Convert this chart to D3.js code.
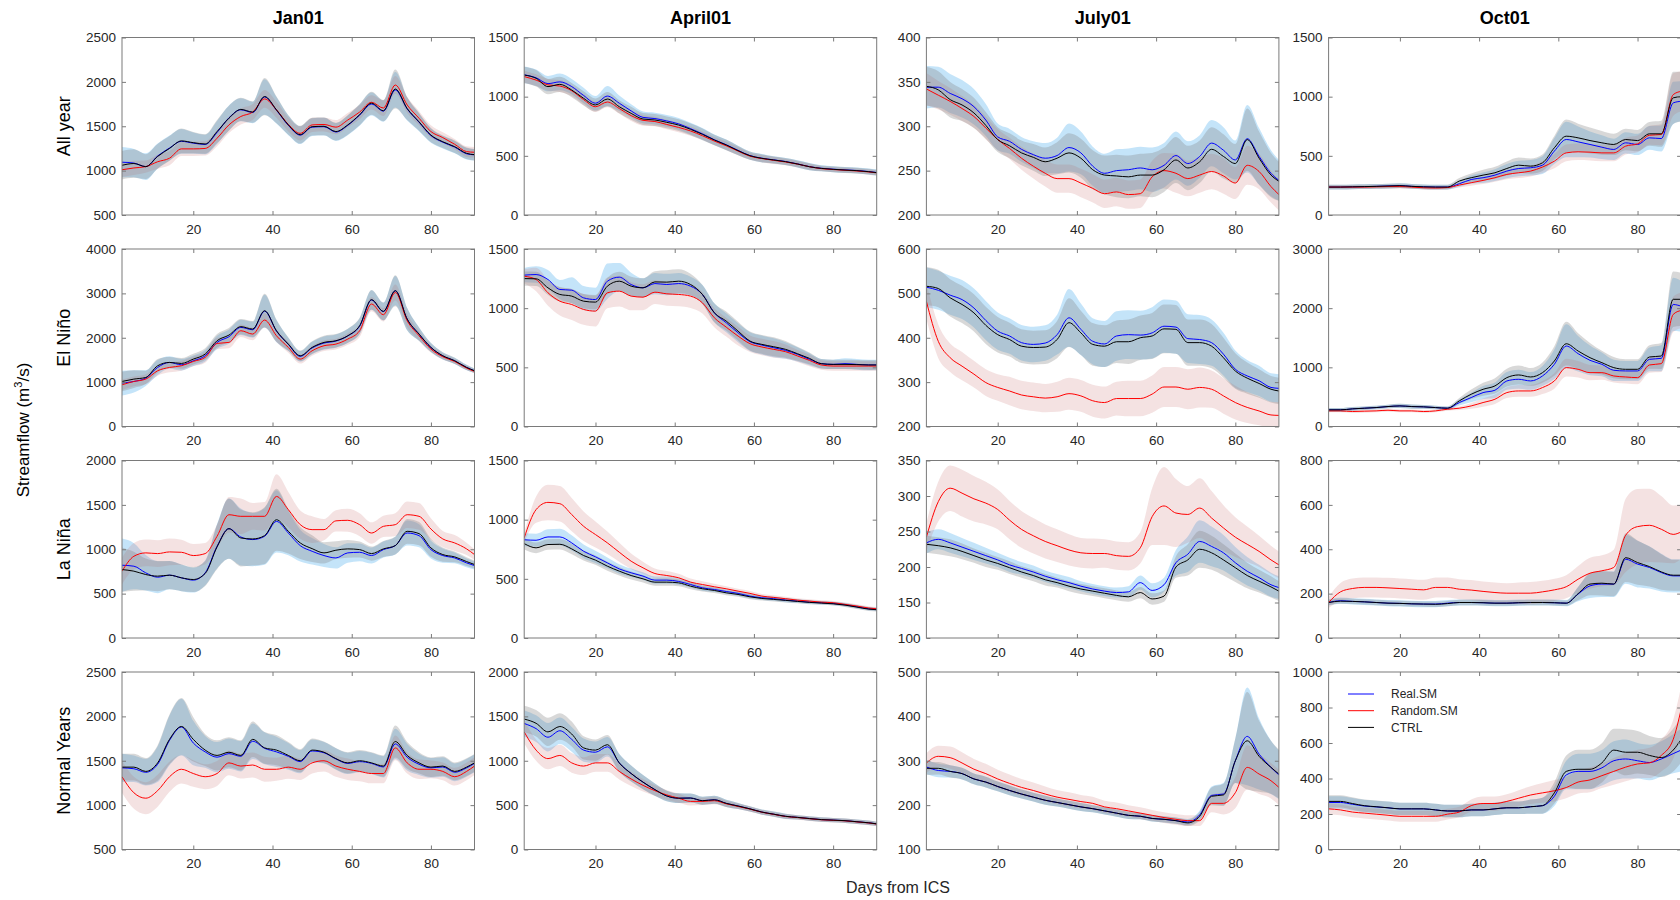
<!DOCTYPE html>
<html>
<head>
<meta charset="utf-8">
<script src="https://cdn.jsdelivr.net/npm/d3@7"></script>
<style>
  body { margin: 0; background: #fff; }
  svg { display: block; font-family: "Liberation Sans", Arial, Helvetica, sans-serif; }
</style>
</head>
<body>
<svg id="chart" width="1680" height="900"></svg>
<script>
// lead days sampled every 3 days from the initial condition
var days = [2,5,8,11,14,17,20,23,26,29,32,35,38,41,44,47,50,53,56,59,62,65,68,71,74,77,80,83,86,89,91];
var columnTitles = ["Jan01", "April01", "July01", "Oct01"];
var rowTitles = ["All year", "El Niño", "La Niña", "Normal Years"];
var seriesNames = ["Real.SM", "Random.SM", "CTRL"];
var xTicks = [20, 40, 60, 80];

// ---- All year ----
var janAllTicks = [500,1000,1500,2000,2500];
var janAllReal = [1095,1085,1045,1165,1255,1330,1310,1295,1430,1595,1685,1655,1830,1680,1510,1400,1490,1495,1435,1510,1625,1750,1670,1910,1695,1545,1395,1320,1265,1190,1178];
var janAllRand = [1010,1030,1045,1100,1140,1245,1245,1250,1365,1515,1610,1660,1808,1685,1520,1420,1515,1520,1490,1570,1660,1770,1705,1965,1740,1590,1440,1372,1297,1214,1207];
var janAllCtrl = [1060,1080,1045,1160,1250,1335,1315,1300,1440,1590,1690,1660,1835,1685,1515,1405,1495,1500,1440,1515,1630,1760,1675,1920,1700,1550,1400,1325,1270,1195,1180];
var janAllRealSd = [170,160,150,140,140,140,120,110,130,140,130,120,200,150,110,100,100,100,100,110,120,130,120,200,130,100,80,70,70,65,65];
var janAllRandSd = [80,80,70,80,80,80,80,80,90,90,90,90,100,90,80,80,80,80,80,80,80,80,90,100,90,80,70,60,60,60,60];
var janAllCtrlSd = [160,160,140,140,140,140,120,110,130,140,130,120,210,150,110,100,100,100,100,110,120,130,120,220,130,100,80,70,70,65,65];

var aprAllTicks = [0,500,1000,1500];
var aprAllReal = [1185,1160,1110,1125,1085,1010,945,1005,945,880,825,815,795,770,730,686,636,594,546,502,480,466,452,432,409,395,387,381,376,367,359];
var aprAllRand = [1170,1140,1100,1090,1050,975,915,955,900,840,800,790,765,740,710,670,625,585,540,497,477,462,448,430,408,392,384,378,372,364,356];
var aprAllCtrl = [1183,1155,1085,1104,1056,986,930,980,915,859,811,803,783,760,724,682,634,592,544,501,479,465,451,431,408,394,386,380,375,366,358];
var aprAllRealSd = [70,70,65,70,65,65,60,85,65,55,50,50,50,50,50,50,45,45,40,35,35,30,30,30,30,25,25,25,25,25,25];
var aprAllRandSd = [50,50,50,50,45,45,45,45,45,45,45,40,40,40,40,35,35,35,35,30,30,30,25,25,25,20,20,20,20,20,20];
var aprAllCtrlSd = [70,70,65,65,60,60,55,60,55,55,50,50,50,50,50,50,45,45,40,35,35,30,30,30,30,25,25,25,25,25,25];

var julAllTicks = [200,250,300,350,400];
var julAllReal = [344,344,337,331,322,307,288,283,274,268,264,267,276,270,255,247,250,251,253,251,256,267,258,266,281,273,262,286,266,247,239];
var julAllRand = [342,335,328,320,311,298,285,275,264,255,247,241,241,236,230,224,226,223,224,243,250,247,241,245,249,244,236,256,249,232,223];
var julAllCtrl = [345,341,330,324,315,301,285,278,270,265,260,264,270,264,251,245,244,243,245,245,251,262,253,260,274,266,258,285,264,245,238];
var julAllRealSd = [24,23,22,21,20,18,15,14,14,15,17,20,27,24,22,22,24,24,24,25,25,27,25,24,26,26,22,38,32,26,23];
var julAllRandSd = [18,16,15,14,13,13,12,12,13,14,15,16,16,16,16,16,16,16,16,18,20,22,20,20,20,20,18,22,20,18,18];
var julAllCtrlSd = [22,21,20,18,17,15,14,14,14,15,16,18,22,22,22,22,24,24,24,25,25,26,25,24,25,25,22,35,30,25,22];

var octAllTicks = [0,500,1000,1500];
var octAllReal = [236,236,238,240,242,245,248,242,238,236,236,264,300,315,337,371,393,399,421,540,638,618,596,573,554,610,596,652,646,947,961];
var octAllRand = [236,236,236,236,238,240,240,236,230,228,232,253,273,292,315,343,357,371,405,455,525,534,531,525,525,582,601,674,680,1017,1045];
var octAllCtrl = [236,236,238,240,242,245,248,242,238,236,236,287,315,337,357,393,421,413,441,568,666,652,629,610,596,638,629,686,686,990,1000];
var octAllRealSd = [20,20,20,20,20,20,20,20,20,20,20,25,35,45,50,60,65,65,75,110,150,130,110,100,90,90,90,100,110,180,170];
var octAllRandSd = [15,15,15,15,15,15,15,15,15,15,15,20,25,30,35,40,45,45,50,60,70,70,70,70,70,70,70,80,90,180,170];
var octAllCtrlSd = [20,20,20,20,20,20,20,20,20,20,20,25,35,45,50,60,65,65,70,100,140,120,110,100,90,90,90,100,110,220,210];

// ---- El Niño ----
var janNinoTicks = [0,1000,2000,3000,4000];
var janNinoReal = [978,1015,1090,1331,1444,1391,1481,1594,1895,2023,2233,2180,2600,2150,1850,1580,1770,1880,1925,2040,2260,2850,2590,3060,2420,2080,1780,1590,1480,1330,1256];
var janNinoRand = [940,1015,1068,1256,1331,1369,1466,1557,1872,1895,2158,2083,2399,2045,1782,1519,1707,1820,1857,1970,2158,2760,2519,3020,2384,2045,1745,1572,1466,1316,1241];
var janNinoCtrl = [1015,1068,1105,1369,1444,1421,1519,1632,1933,2060,2250,2196,2609,2158,1857,1594,1782,1895,1933,2045,2271,2858,2594,3061,2421,2083,1782,1594,1481,1331,1256];
var janNinoRealSd = [280,250,180,170,140,130,120,130,150,160,170,180,370,250,150,120,140,150,150,160,180,220,200,330,250,150,100,80,70,60,50];
var janNinoRandSd = [120,110,110,110,110,110,110,120,130,130,140,140,160,140,120,100,110,120,120,130,140,160,150,180,150,110,80,60,50,45,40];
var janNinoCtrlSd = [220,200,150,150,120,120,120,130,150,160,170,180,380,250,150,120,140,150,150,160,180,220,200,350,250,150,100,80,70,60,50];

var aprNinoTicks = [0,500,1000,1500];
var aprNinoReal = [1279,1284,1242,1158,1152,1087,1073,1228,1262,1200,1172,1208,1200,1208,1186,1116,961,877,792,717,688,666,643,610,568,531,525,531,525,520,520];
var aprNinoRand = [1270,1242,1130,1059,1031,989,975,1130,1144,1102,1093,1135,1121,1116,1102,1045,919,840,764,700,672,652,632,596,559,520,511,511,511,511,511];
var aprNinoCtrl = [1250,1248,1172,1116,1102,1059,1051,1186,1228,1186,1172,1222,1220,1228,1200,1116,961,891,806,722,694,674,652,615,576,531,525,525,523,520,520];
var aprNinoRealSd = [60,70,80,80,110,100,100,150,120,100,80,90,90,90,80,80,80,80,80,80,80,80,70,60,50,40,40,45,45,45,45];
var aprNinoRandSd = [60,100,110,120,130,130,130,130,130,120,110,100,100,100,100,90,80,80,80,70,70,70,60,50,50,40,40,40,40,40,40];
var aprNinoCtrlSd = [60,60,60,60,60,60,60,70,80,80,80,90,100,100,90,80,80,80,80,80,80,80,70,60,50,40,40,40,40,40,40];

var julNinoTicks = [200,300,400,500,600];
var julNinoReal = [514,507,496,486,467,439,415,404,389,385,388,407,445,419,392,386,404,407,406,411,426,424,398,396,389,363,329,314,303,288,286];
var julNinoRand = [482,392,355,336,318,299,288,280,271,267,264,267,274,269,258,254,263,263,263,273,289,289,284,288,284,269,254,243,235,226,225];
var julNinoCtrl = [516,511,490,475,456,428,407,396,381,378,379,396,434,411,385,381,391,391,400,404,420,419,389,389,381,355,325,309,297,284,280];
var julNinoRealSd = [45,44,44,44,44,44,42,40,40,40,40,45,65,58,52,52,56,55,55,58,60,60,55,55,52,48,42,36,34,32,32];
var julNinoRandSd = [40,38,32,32,30,30,30,32,32,32,32,34,36,36,36,36,38,40,40,42,45,45,45,45,42,40,38,35,32,30,30];
var julNinoCtrlSd = [43,42,42,42,42,42,40,38,38,38,38,42,55,50,48,47,48,50,50,52,55,55,52,52,50,45,40,35,32,30,30];

var octNinoTicks = [0,1000,2000,3000];
var octNinoReal = [281,281,298,309,320,337,348,337,332,320,309,405,489,573,613,770,798,770,854,1051,1360,1231,1118,1051,950,939,939,1135,1152,2062,2034];
var octNinoRand = [264,264,253,259,264,275,264,264,253,264,292,309,348,405,461,573,601,601,658,770,995,967,910,910,854,837,826,1040,1062,1894,1961];
var octNinoCtrl = [281,281,298,309,320,337,348,337,332,320,309,433,545,629,686,826,871,837,910,1107,1399,1276,1163,1079,995,967,967,1175,1191,2150,2150];
var octNinoRealSd = [30,30,30,30,30,30,35,35,30,30,30,50,80,110,130,150,160,150,170,250,370,300,250,200,180,170,170,200,220,450,430];
var octNinoRandSd = [25,25,25,25,25,25,25,25,25,25,25,30,50,70,80,90,100,100,110,130,150,140,130,120,110,110,110,130,140,300,300];
var octNinoCtrlSd = [30,30,30,30,30,30,35,35,30,30,30,50,80,110,130,150,160,150,170,250,370,300,250,200,180,170,170,200,220,470,450];

// ---- La Niña ----
var janNinaTicks = [0,500,1000,1500,2000];
var janNinaReal = [820,809,734,685,708,678,652,734,1034,1232,1138,1109,1146,1314,1183,1041,977,929,902,959,966,929,996,1041,1183,1153,996,929,902,846,816];
var janNinaRand = [753,921,959,951,970,966,929,951,1146,1389,1371,1371,1371,1595,1446,1277,1221,1221,1320,1326,1277,1183,1258,1277,1389,1371,1228,1116,1071,1004,940];
var janNinaCtrl = [771,753,715,697,708,678,659,727,1026,1232,1127,1116,1153,1333,1202,1071,1007,959,989,1004,996,951,1004,1041,1202,1176,1015,940,914,861,828];
var janNinaRealSd = [300,260,200,180,160,150,140,140,250,340,320,300,320,350,250,180,150,130,120,110,100,90,90,100,140,130,100,80,60,50,45];
var janNinaRandSd = [150,150,150,150,150,140,130,120,130,200,200,150,160,250,200,160,150,120,120,130,130,120,120,130,150,150,120,90,90,70,60];
var janNinaCtrlSd = [250,220,180,170,160,150,140,140,250,340,320,300,320,350,250,180,150,120,100,100,90,80,90,100,140,130,100,80,60,50,45];

var aprNinaTicks = [0,500,1000,1500];
var aprNinaReal = [830,826,854,854,804,733,686,635,584,551,523,489,489,478,452,424,410,393,377,354,340,332,320,312,303,298,292,281,264,247,242];
var aprNinaRand = [846,1085,1146,1135,1043,944,874,804,725,649,593,545,528,509,472,452,433,416,396,377,354,343,332,320,312,303,298,284,270,253,247];
var aprNinaCtrl = [798,762,790,792,753,697,658,607,565,528,500,472,472,466,438,416,402,382,368,348,334,326,318,309,301,295,289,278,261,244,239];
var aprNinaRealSd = [55,55,65,70,65,58,52,46,40,36,32,30,30,28,26,24,22,20,20,20,18,18,17,16,15,15,15,15,15,15,15];
var aprNinaRandSd = [40,110,150,150,140,125,110,95,80,65,52,42,38,34,30,27,25,22,20,20,18,18,17,16,15,15,15,15,15,15,15];
var aprNinaCtrlSd = [50,45,45,45,45,42,40,38,36,34,32,30,30,28,26,24,22,20,20,20,18,18,17,16,15,15,15,15,15,15,15];

var julNinaTicks = [100,150,200,250,300,350];
var julNinaReal = [234,239,234,228,222,216,210,203,198,193,187,182,178,173,169,166,164,165,178,167,175,206,218,236,229,220,206,194,185,175,171];
var julNinaRand = [242,292,311,304,296,290,281,266,253,244,236,230,224,220,219,219,216,215,227,271,286,276,274,283,269,255,242,232,222,210,203];
var julNinaCtrl = [232,230,227,222,216,210,205,199,193,188,182,178,173,169,166,163,160,158,164,155,159,200,210,225,220,210,199,188,180,172,166];
var julNinaRealSd = [15,14,14,13,12,11,10,10,9,9,8,8,8,7,7,7,7,8,10,10,10,18,25,30,28,25,22,20,18,17,16];
var julNinaRandSd = [20,28,32,33,32,30,28,27,26,25,24,23,22,21,21,20,20,20,22,40,55,48,40,42,38,32,28,25,22,20,19];
var julNinaCtrlSd = [12,12,12,11,10,10,9,9,8,8,8,7,7,7,7,7,7,7,8,8,8,15,22,26,24,22,20,18,16,15,14];

var octNinaTicks = [0,200,400,600,800];
var octNinaReal = [160,168,165,163,160,157,156,154,153,153,157,160,160,159,157,157,159,160,160,159,157,198,235,243,243,355,333,318,295,280,280];
var octNinaRand = [160,208,223,228,228,226,223,220,217,228,228,220,216,210,205,202,202,202,208,217,231,265,292,303,318,463,502,508,490,467,478];
var octNinaCtrl = [160,166,165,163,160,157,156,154,153,152,155,160,160,159,157,157,159,160,160,159,157,200,243,247,243,362,340,322,298,283,283];
var octNinaRealSd = [14,14,14,14,14,14,14,14,14,14,14,14,14,14,14,14,14,14,14,14,14,32,55,58,58,110,105,95,85,75,75];
var octNinaRandSd = [25,40,45,45,45,45,45,45,45,45,45,45,45,45,45,45,48,50,50,50,52,60,70,70,80,165,170,165,150,130,120];
var octNinaCtrlSd = [12,12,12,12,12,12,12,12,12,12,12,12,12,12,12,12,12,12,12,12,12,30,50,55,55,110,100,90,80,70,70];

// ---- Normal Years ----
var janNormTicks = [500,1000,1500,2000,2500];
var janNormReal = [1420,1410,1370,1460,1730,1880,1700,1600,1540,1580,1550,1720,1640,1600,1550,1490,1610,1590,1520,1470,1490,1470,1430,1690,1540,1460,1420,1430,1370,1420,1470];
var janNormRand = [1320,1139,1078,1163,1320,1404,1356,1320,1356,1476,1440,1452,1404,1404,1428,1404,1476,1500,1440,1404,1380,1356,1356,1645,1476,1404,1404,1380,1320,1380,1440];
var janNormCtrl = [1428,1428,1380,1476,1741,1886,1741,1620,1560,1596,1560,1741,1645,1620,1560,1500,1620,1596,1524,1476,1500,1476,1440,1717,1560,1476,1428,1440,1380,1428,1476];
var janNormRealSd = [160,150,150,200,280,320,250,180,170,170,170,200,180,170,150,130,130,120,120,120,120,120,120,170,150,120,110,110,100,100,100];
var janNormRandSd = [180,180,180,180,170,160,150,140,140,140,140,140,140,130,130,120,120,120,120,120,110,110,110,140,120,110,100,100,100,100,100];
var janNormCtrlSd = [150,150,150,200,280,320,250,180,170,170,170,200,180,170,150,130,130,120,120,120,120,120,120,180,150,120,110,110,100,100,100];

var aprNormTicks = [0,500,1000,1500,2000];
var aprNormReal = [1420,1362,1265,1338,1241,1120,1096,1157,976,856,759,675,603,578,580,550,560,520,490,458,422,398,374,362,349,337,331,325,313,301,289];
var aprNormRand = [1325,1120,1024,1060,976,940,976,976,880,795,723,663,615,578,542,542,550,515,485,455,420,396,372,360,347,335,329,323,311,299,287];
var aprNormCtrl = [1470,1422,1325,1386,1301,1145,1120,1181,976,856,759,675,603,578,580,550,560,520,490,458,422,398,374,362,349,337,331,325,313,301,289];
var aprNormRealSd = [150,150,160,150,140,130,120,110,100,90,80,70,60,55,50,45,45,40,35,30,30,30,30,25,25,25,25,25,25,25,25];
var aprNormRandSd = [130,120,120,120,110,100,100,100,90,80,70,60,55,50,45,40,40,35,30,30,25,25,25,25,25,25,25,25,25,25,25];
var aprNormCtrlSd = [150,150,160,150,140,130,120,110,100,90,80,70,60,55,50,45,45,40,35,30,30,30,30,25,25,25,25,25,25,25,25];

var julNormTicks = [100,200,300,400,500];
var julNormReal = [286,278,276,271,259,252,242,233,225,218,211,206,201,196,192,187,182,177,175,170,168,165,162,178,222,225,300,355,315,285,268];
var julNormRand = [295,310,307,295,281,271,259,249,240,233,225,218,213,208,204,196,192,187,182,177,172,168,165,165,204,204,228,285,270,255,240];
var julNormCtrl = [283,283,276,271,259,252,242,233,225,218,211,206,201,196,192,187,182,177,175,170,168,165,160,175,220,223,300,345,310,285,270];
var julNormRealSd = [16,15,14,13,12,12,11,11,10,10,10,9,9,9,8,8,8,8,7,7,7,7,7,10,20,25,50,110,80,60,55];
var julNormRandSd = [22,24,25,24,23,22,21,20,19,18,17,16,16,15,15,14,14,13,13,12,12,12,12,12,20,25,35,50,45,40,40];
var julNormCtrlSd = [15,14,14,13,12,12,11,11,10,10,10,9,9,9,8,8,8,8,7,7,7,7,7,10,20,25,50,110,80,60,55];

var octNormTicks = [0,200,400,600,800,1000];
var octNormReal = [265,265,255,245,240,235,229,229,229,223,217,217,223,223,229,235,235,241,247,300,420,440,440,460,500,510,500,490,510,540,560];
var octNormRand = [229,223,211,205,199,193,187,187,187,187,199,211,247,259,259,271,289,307,319,331,349,380,392,416,440,464,482,488,530,620,789];
var octNormCtrl = [271,271,259,247,241,235,229,229,229,223,217,217,223,223,229,235,235,241,247,319,440,452,452,488,560,548,548,530,518,560,620];
var octNormRealSd = [35,35,35,35,35,35,35,35,35,35,35,35,35,35,35,35,35,40,45,55,80,100,100,100,110,110,100,100,100,110,120];
var octNormRandSd = [30,30,30,30,30,30,30,30,30,30,30,30,35,40,40,40,45,50,55,60,60,65,70,70,75,80,80,85,90,110,130];
var octNormCtrlSd = [35,35,35,35,35,35,35,35,35,35,35,35,35,35,35,35,35,40,45,60,90,110,110,110,120,130,120,110,110,120,130];

// one entry per panel, row by row
var panels = [
  {row:0, col:0, ticks:janAllTicks, real:janAllReal, rand:janAllRand, ctrl:janAllCtrl, realSd:janAllRealSd, randSd:janAllRandSd, ctrlSd:janAllCtrlSd},
  {row:0, col:1, ticks:aprAllTicks, real:aprAllReal, rand:aprAllRand, ctrl:aprAllCtrl, realSd:aprAllRealSd, randSd:aprAllRandSd, ctrlSd:aprAllCtrlSd},
  {row:0, col:2, ticks:julAllTicks, real:julAllReal, rand:julAllRand, ctrl:julAllCtrl, realSd:julAllRealSd, randSd:julAllRandSd, ctrlSd:julAllCtrlSd},
  {row:0, col:3, ticks:octAllTicks, real:octAllReal, rand:octAllRand, ctrl:octAllCtrl, realSd:octAllRealSd, randSd:octAllRandSd, ctrlSd:octAllCtrlSd},
  {row:1, col:0, ticks:janNinoTicks, real:janNinoReal, rand:janNinoRand, ctrl:janNinoCtrl, realSd:janNinoRealSd, randSd:janNinoRandSd, ctrlSd:janNinoCtrlSd},
  {row:1, col:1, ticks:aprNinoTicks, real:aprNinoReal, rand:aprNinoRand, ctrl:aprNinoCtrl, realSd:aprNinoRealSd, randSd:aprNinoRandSd, ctrlSd:aprNinoCtrlSd},
  {row:1, col:2, ticks:julNinoTicks, real:julNinoReal, rand:julNinoRand, ctrl:julNinoCtrl, realSd:julNinoRealSd, randSd:julNinoRandSd, ctrlSd:julNinoCtrlSd},
  {row:1, col:3, ticks:octNinoTicks, real:octNinoReal, rand:octNinoRand, ctrl:octNinoCtrl, realSd:octNinoRealSd, randSd:octNinoRandSd, ctrlSd:octNinoCtrlSd},
  {row:2, col:0, ticks:janNinaTicks, real:janNinaReal, rand:janNinaRand, ctrl:janNinaCtrl, realSd:janNinaRealSd, randSd:janNinaRandSd, ctrlSd:janNinaCtrlSd},
  {row:2, col:1, ticks:aprNinaTicks, real:aprNinaReal, rand:aprNinaRand, ctrl:aprNinaCtrl, realSd:aprNinaRealSd, randSd:aprNinaRandSd, ctrlSd:aprNinaCtrlSd},
  {row:2, col:2, ticks:julNinaTicks, real:julNinaReal, rand:julNinaRand, ctrl:julNinaCtrl, realSd:julNinaRealSd, randSd:julNinaRandSd, ctrlSd:julNinaCtrlSd},
  {row:2, col:3, ticks:octNinaTicks, real:octNinaReal, rand:octNinaRand, ctrl:octNinaCtrl, realSd:octNinaRealSd, randSd:octNinaRandSd, ctrlSd:octNinaCtrlSd},
  {row:3, col:0, ticks:janNormTicks, real:janNormReal, rand:janNormRand, ctrl:janNormCtrl, realSd:janNormRealSd, randSd:janNormRandSd, ctrlSd:janNormCtrlSd},
  {row:3, col:1, ticks:aprNormTicks, real:aprNormReal, rand:aprNormRand, ctrl:aprNormCtrl, realSd:aprNormRealSd, randSd:aprNormRandSd, ctrlSd:aprNormCtrlSd},
  {row:3, col:2, ticks:julNormTicks, real:julNormReal, rand:julNormRand, ctrl:julNormCtrl, realSd:julNormRealSd, randSd:julNormRandSd, ctrlSd:julNormCtrlSd},
  {row:3, col:3, ticks:octNormTicks, real:octNormReal, rand:octNormRand, ctrl:octNormCtrl, realSd:octNormRealSd, randSd:octNormRandSd, ctrlSd:octNormCtrlSd}
];

var W = 352.5, H = 177.5;
var left0 = 122, top0 = 37.5, stepX = 402.2, stepY = 211.5;
var frameColor = "#7a7a7a", textColor = "#262626";

var svg = d3.select("#chart");
var x = d3.scaleLinear().domain([2, 91]).range([0, W]);

// colours for Real.SM, Random.SM, CTRL
var lineColors = ["#0000ff", "#ff0000", "#000000"];
var bandColors = ["#5bb5ef", "#c87070", "#7f7f7f"];
var bandOpacity = [0.36, 0.2, 0.3];

function styleAxis(sel) {
  sel.select(".domain").remove();
  sel.selectAll(".tick line").attr("stroke", frameColor);
  sel.selectAll(".tick text").attr("fill", textColor);
  sel.attr("font-family", null).attr("font-size", 13.5);
}

panels.forEach(function(p, k) {
  var g = svg.append("g")
    .attr("transform", "translate(" + (left0 + p.col * stepX) + "," + (top0 + p.row * stepY) + ")");
  var y = d3.scaleLinear().domain([p.ticks[0], p.ticks[p.ticks.length - 1]]).range([H, 0]);

  g.append("clipPath").attr("id", "clip" + k)
    .append("rect").attr("width", W).attr("height", H);
  var plot = g.append("g").attr("clip-path", "url(#clip" + k + ")");

  var series = [
    {mean: p.real, sd: p.realSd},
    {mean: p.rand, sd: p.randSd},
    {mean: p.ctrl, sd: p.ctrlSd}
  ];

  series.forEach(function(s, j) {
    var area = d3.area().curve(d3.curveMonotoneX)
      .x(function(d, i) { return x(days[i]); })
      .y0(function(d, i) { return y(d - s.sd[i]); })
      .y1(function(d, i) { return y(d + s.sd[i]); });
    plot.append("path").datum(s.mean)
      .attr("d", area)
      .attr("fill", bandColors[j])
      .attr("fill-opacity", bandOpacity[j]);
  });

  series.forEach(function(s, j) {
    var line = d3.line().curve(d3.curveMonotoneX)
      .x(function(d, i) { return x(days[i]); })
      .y(function(d) { return y(d); });
    plot.append("path").datum(s.mean)
      .attr("d", line)
      .attr("fill", "none")
      .attr("stroke", lineColors[j])
      .attr("stroke-width", 1);
  });

  g.append("g").attr("transform", "translate(0," + H + ")")
    .call(d3.axisBottom(x).tickValues(xTicks).tickFormat(d3.format("d"))
      .tickSizeInner(-4).tickSizeOuter(0).tickPadding(9))
    .call(styleAxis);
  g.append("g")
    .call(d3.axisTop(x).tickValues(xTicks).tickFormat("").tickSizeInner(-4).tickSizeOuter(0))
    .call(styleAxis);
  g.append("g")
    .call(d3.axisLeft(y).tickValues(p.ticks).tickFormat(d3.format("d"))
      .tickSizeInner(-4).tickSizeOuter(0).tickPadding(6))
    .call(styleAxis);
  g.append("g").attr("transform", "translate(" + W + ",0)")
    .call(d3.axisRight(y).tickValues(p.ticks).tickFormat("").tickSizeInner(-4).tickSizeOuter(0))
    .call(styleAxis);

  g.append("rect")
    .attr("width", W).attr("height", H)
    .attr("fill", "none").attr("stroke", frameColor).attr("stroke-width", 1);
});

// column titles
svg.selectAll(".coltitle").data(columnTitles).enter().append("text")
  .attr("class", "coltitle")
  .attr("x", function(d, i) { return left0 + i * stepX + W / 2; })
  .attr("y", 24)
  .attr("text-anchor", "middle")
  .attr("font-size", 18).attr("font-weight", "bold").attr("fill", "#000")
  .text(function(d) { return d; });

// row titles
svg.selectAll(".rowtitle").data(rowTitles).enter().append("text")
  .attr("class", "rowtitle")
  .attr("transform", function(d, i) {
    return "translate(70," + (top0 + i * stepY + H / 2) + ") rotate(-90)";
  })
  .attr("text-anchor", "middle")
  .attr("font-size", 18).attr("fill", "#000")
  .text(function(d) { return d; });

// y axis label
var yl = svg.append("text")
  .attr("transform", "translate(29,430) rotate(-90)")
  .attr("text-anchor", "middle")
  .attr("font-size", 17).attr("fill", "#000");
yl.append("tspan").text("Streamflow (m");
yl.append("tspan").attr("font-size", 11).attr("dy", -7).text("3");
yl.append("tspan").attr("dy", 7).text("/s)");

// x axis label
svg.append("text")
  .attr("x", 898).attr("y", 893)
  .attr("text-anchor", "middle")
  .attr("font-size", 16).attr("fill", textColor)
  .text("Days from ICS");

// legend inside the last panel
var legend = svg.append("g").attr("transform", "translate(1348,694)");
seriesNames.forEach(function(name, j) {
  var row = legend.append("g").attr("transform", "translate(0," + (j * 16.7) + ")");
  row.append("line").attr("x1", 0).attr("x2", 26).attr("y1", 0).attr("y2", 0)
    .attr("stroke", lineColors[j]).attr("stroke-width", 1);
  row.append("text").attr("x", 43).attr("dy", "0.35em")
    .attr("font-size", 12).attr("fill", textColor).text(name);
});
</script>
</body>
</html>
